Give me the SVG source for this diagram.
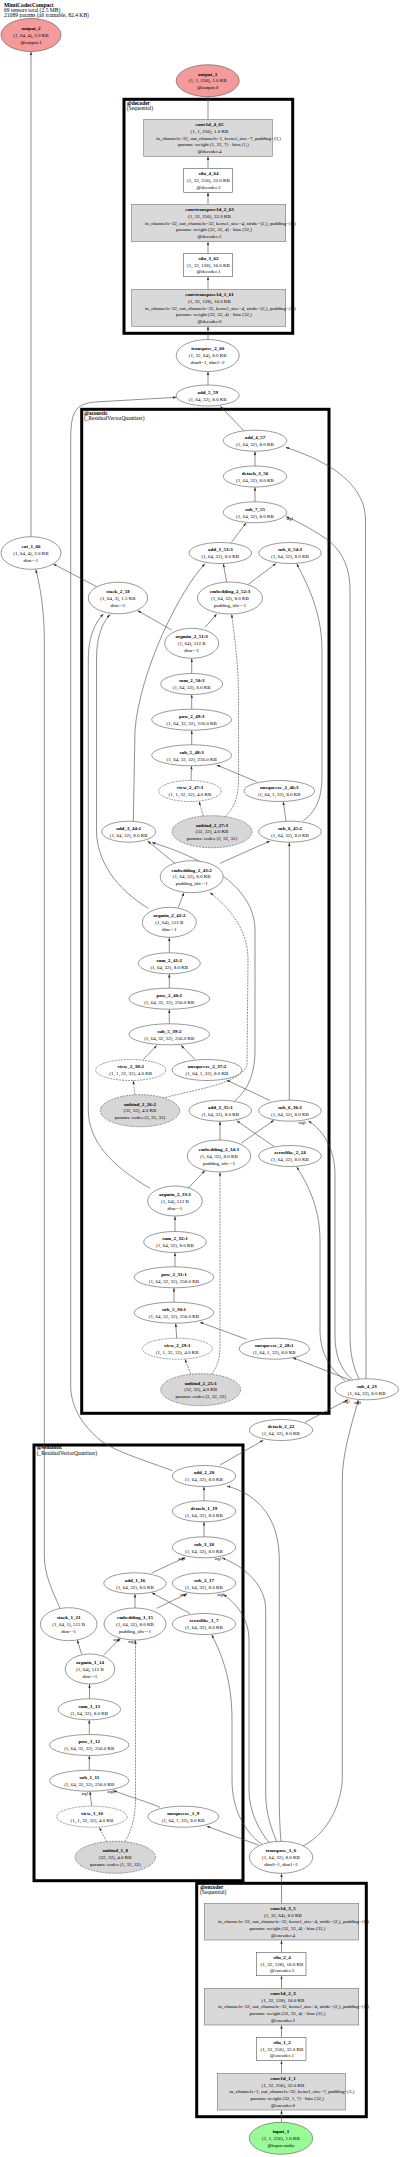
<svg xmlns="http://www.w3.org/2000/svg" width="400" height="2157" viewBox="0 0 400 2157">
<style>
text{font-family:"Liberation Serif","Times New Roman",serif;font-size:5px;text-anchor:middle;fill:#000}
.b{font-weight:bold}
.h{text-anchor:start;font-size:5.6px}
.cl{text-anchor:start;font-size:5.4px}
.lb{font-size:4px}
ellipse,.r{fill:#fff;stroke:#555;stroke-width:.6}
.d{stroke-dasharray:2,1}
.p{fill:#d6d6d6}
.m{fill:#d9d9d9;stroke:#777;stroke-width:.6}
.out{fill:#f49a9a}
.in{fill:#98fb98}
.c{fill:none;stroke:#000;stroke-width:3}
.e{fill:none;stroke:#444;stroke-width:.6;marker-end:url(#a)}
.ed{stroke-dasharray:2,1}
</style>
<defs>
<marker id="a" markerUnits="userSpaceOnUse" markerWidth="4" markerHeight="3" refX="3.5" refY="1.2" orient="auto"><path d="M0,0L3.5,1.2L0,2.4z" fill="#333"/></marker>
</defs>
<rect width="400" height="2157" fill="#fff"/>
<g id="header">
<text x="4" y="6.7" class="h b">MimiCodecCompact</text>
<text x="4" y="11.7" class="h">69 tensors total (2.5 MB)</text>
<text x="4" y="16.7" class="h">21089 params (all trainable, 82.4 KB)</text>
</g>
<g id="clusters">
<rect class="c" x="124" y="99.3" width="168.7" height="234"/>
<text x="126.7" y="105.2" class="cl b">@decoder</text><text x="126.7" y="110.2" class="cl">(Sequential)</text>
<rect class="c" x="81.7" y="409.3" width="247.3" height="1004"/>
<text x="84" y="414.6" class="cl b">@acoustic</text><text x="84" y="419.6" class="cl">(_ResidualVectorQuantizer)</text>
<rect class="c" x="34" y="1445" width="209" height="435.7"/>
<text x="36.7" y="1449.2" class="cl b">@semantic</text><text x="36.7" y="1454.6" class="cl">(_ResidualVectorQuantizer)</text>
<rect class="c" x="196.7" y="1883.3" width="169.6" height="233.4"/>
<text x="200" y="1889.2" class="cl b">@encoder</text><text x="200" y="1893.9" class="cl">(Sequential)</text>
</g>
<g id="edges">
<path class="e" d="M31,536.7L31,51.7"/>
<path class="e" d="M208,119.3L208,96.9"/>
<path class="e" d="M208,168.3L208,156.5"/>
<path class="e" d="M208,204.3L208,192.5"/>
<path class="e" d="M208,253.3L208,241.9"/>
<path class="e" d="M208,289.3L208,276.9"/>
<path class="e" d="M208,339.5L208,326.5"/>
<path class="e" d="M208,385L208,371.7"/>
<path class="e" d="M243.7,430.5L220.3,406.2"/>
<path class="e" d="M172.3,1470.7C150,1462 115,1452 100,1440C80,1423 70.7,1405 70.7,1385L70.7,440C70.7,412 75,404 95,402L176.5,397.3"/>
<path class="e" d="M96.7,586.7L53.3,564"/>
<path class="e" d="M60,1608C52,1590 44.3,1575 44.3,1555L44.3,640C44.3,610 40,585 35.7,569.5"/>
<path class="e" d="M171.7,630L137.7,610.7"/>
<path class="e" d="M148.3,908.3C115,888 96.5,860 96.5,830L96.5,660C96.5,635 103,622 110,614.5"/>
<path class="e" d="M150,1188.3C110,1165 88.3,1140 88.3,1110L88.3,660C88.3,635 96,622 103.3,614"/>
<path class="e" d="M205,627.3L216.7,614"/>
<path class="e ed" d="M225,816.7C235,808 238.5,795 238.5,780L238.5,700C238.5,660 234,635 231.7,614.2"/>
<path class="e" d="M226.7,582.3L223.3,563.7"/>
<path class="e" d="M248.3,584.3L276,563.5"/>
<path class="e" d="M133.3,821.2L135,730C140,670 180,590 205,563.7"/>
<path class="e" d="M303.3,820.7C318,810 322,795 322,775L322,650C322,610 305,580 296.7,563.7"/>
<path class="e" d="M231.3,542.5L246,523"/>
<path class="e" d="M359,1378.8C352,1365 350,1350 350,1335L350,590C350,565 340,548 325,538C310,528 295,520 286,516.7"/>
<path class="e" d="M366,1378.8L365.5,520C365.5,490 340,465 285.7,447.3"/>
<path class="e" d="M255,466L255,451.4"/>
<path class="e" d="M255,501.8L255,487.2"/>
<path class="e" d="M191.7,673.5L191.7,658.5"/>
<path class="e" d="M191.7,709.2L191.7,694.7"/>
<path class="e" d="M191.7,744.8L191.7,730.4"/>
<path class="e" d="M191,780.5L191.5,766"/>
<path class="e" d="M256.7,781.7L216.7,765"/>
<path class="e" d="M286,821.2L283.3,801.7"/>
<path class="e ed" d="M203.3,816L199,801.5"/>
<path class="e" d="M175,863.3L147.5,841"/>
<path class="e" d="M220,863.3L270,841"/>
<path class="e" d="M235,1100.5C250,1088 255,1070 255,1050L255,930C255,885 200,857 152,842.5"/>
<path class="e ed" d="M160,1099C190,1090 240,1085 247,1065L248,960C248,930 230,908 210,892.7"/>
<path class="e" d="M178.3,907.5L184,892.7"/>
<path class="e" d="M169.3,952.8L169.3,937.5"/>
<path class="e" d="M169.3,988.2L169.3,974"/>
<path class="e" d="M169.3,1023.8L169.3,1009.4"/>
<path class="e" d="M143.3,1059.5L156.7,1045.5"/>
<path class="e" d="M195,1059.5L181,1045.3"/>
<path class="e ed" d="M135,1094.7L133.3,1080.7"/>
<path class="e" d="M270,1100.5L226.7,1080.2"/>
<path class="e" d="M289.3,1100.2L289.3,842.4"/>
<path class="e" d="M175,1231.5L175,1216.2"/>
<path class="e" d="M188.3,1188L205,1170.5"/>
<path class="e ed" d="M211.7,1374C218,1366 220,1358 220,1345L220,1172.2"/>
<path class="e" d="M220,1140L220,1121.4"/>
<path class="e" d="M241,1143.3L274,1120.2"/>
<path class="e" d="M274,1146.5L236.7,1120.7"/>
<path class="e" d="M345,1380.5C328,1368 320,1350 320,1330L320,1240C320,1205 305,1180 296.7,1166.9"/>
<path class="e" d="M352,1379.5C340,1368 335,1355 335,1335L335,1175C335,1145 320,1128 308.3,1120.9"/>
<path class="e" d="M175,1266.8L175,1252.7"/>
<path class="e" d="M174,1302.2L174,1288"/>
<path class="e" d="M176.7,1338.2L175.7,1323.4"/>
<path class="e" d="M246.7,1339.3L200,1322.3"/>
<path class="e" d="M350,1380L292.7,1357.7"/>
<path class="e ed" d="M190.7,1373.8L185,1359.2"/>
<path class="e" d="M305,1422.3L348.3,1399.5"/>
<path class="e" d="M301.7,1846.7C325,1835 340,1810 342.3,1780L342.3,1480C342.3,1455 350,1430 358.3,1400"/>
<path class="e" d="M220,1465L263.3,1440.2"/>
<path class="e" d="M204,1500.8L204,1486.7"/>
<path class="e" d="M204,1536.8L204,1522"/>
<path class="e" d="M151.7,1573L185,1557.5"/>
<path class="e" d="M276.7,1841.5C272,1830 266,1815 265.7,1795L265.7,1610C265.7,1585 245,1567 222,1557.8"/>
<path class="e" d="M281,1841.3C280,1830 279.3,1815 279.3,1800L279.3,1560C279.3,1520 260,1495 227,1486"/>
<path class="e" d="M270,1843.3C258,1830 249,1810 249,1790L249,1640C249,1620 238,1605 223.5,1594.5"/>
<path class="e" d="M262,1844.5C245,1832 232,1810 232,1780L232,1720C232,1680 222,1655 211.7,1634.8"/>
<path class="e" d="M258.3,1845L206.7,1826.2"/>
<path class="e" d="M190,1613.5L151.7,1592.7"/>
<path class="e" d="M135,1608L135,1594"/>
<path class="e" d="M156.7,1608.3L186.7,1593.8"/>
<path class="e" d="M103.3,1655.5L120,1638.5"/>
<path class="e ed" d="M125,1841.5C132,1830 135.5,1815 135.5,1800L135.5,1640.2"/>
<path class="e" d="M81.7,1654.3L77.3,1640"/>
<path class="e" d="M89.5,1698.8L89.5,1684.2"/>
<path class="e" d="M89.3,1734.5L89.3,1720"/>
<path class="e" d="M89.3,1770.2L89.3,1755.7"/>
<path class="e" d="M91.7,1806.2L90,1791.4"/>
<path class="e" d="M160,1807.3C148,1802 130,1797 113.3,1790.5"/>
<path class="e ed" d="M106.7,1841.5L99.3,1827.5"/>
<path class="e" d="M281.5,1903.3L281.5,1873.5"/>
<path class="e" d="M281.5,1952.3L281.5,1940.2"/>
<path class="e" d="M281.5,1988.3L281.5,1975.9"/>
<path class="e" d="M281.5,2037.3L281.5,2025.2"/>
<path class="e" d="M281.5,2073.3L281.5,2060.9"/>
<path class="e" d="M281.5,2122.3L281.5,2110.2"/>
<text class="lb" x="290" y="520">arg1</text>
<text class="lb" x="302" y="1123.5">arg0</text>
<text class="lb" x="346.5" y="1403.3">arg1</text>
<text class="lb" x="357.5" y="1404.3">arg0</text>
<text class="lb" x="181.7" y="1559.6">arg0</text>
<text class="lb" x="218.3" y="1559.6">arg1</text>
<text class="lb" x="183.7" y="1596.3">arg1</text>
<text class="lb" x="220.7" y="1596.3">arg0</text>
<text class="lb" x="116.7" y="1641.3">arg0</text>
<text class="lb" x="131.7" y="1643.3">arg1</text>
<text class="lb" x="85" y="1795.3">arg1</text>
<text class="lb" x="111" y="1793">arg0</text>
</g>
<g id="output_2"><ellipse class="out" cx="31" cy="35" rx="30" ry="16.5"/><text x="31" y="29.9" class="b">output_2</text><text x="31" y="36.7">(1, 64, 4), 2.0 KB</text><text x="31" y="43.5">@output.1</text></g>
<g id="output_1"><ellipse class="out" cx="207.7" cy="80.7" rx="31.5" ry="16"/><text x="207.7" y="75.6" class="b">output_1</text><text x="207.7" y="82.4">(1, 1, 256), 1.0 KB</text><text x="207.7" y="89.2">@output.0</text></g>
<g id="conv1d_4_65"><rect class="m" x="143.7" y="119.3" width="128.6" height="37"/><text x="209.5" y="126" class="b">conv1d_4_65</text><text x="209.5" y="132.75">(1, 1, 256), 1.0 KB</text><text x="218.5" y="139.5">in_channels=32, out_channels=1, kernel_size=7, padding=(3,)</text><text x="213.3" y="146.25">params: weight (1, 32, 7) · bias (1,)</text><text x="209.5" y="153">@decoder.4</text></g>
<g id="silu_4_64"><rect class="r" x="183.7" y="168.3" width="48.6" height="24"/><text x="208.5" y="175.3" class="b">silu_4_64</text><text x="208.5" y="182">(1, 32, 256), 32.0 KB</text><text x="208.5" y="188.7">@decoder.3</text></g>
<g id="convtranspose1d_2_63"><rect class="m" x="131.7" y="204.3" width="154" height="37.4"/><text x="209.5" y="211.2" class="b">convtranspose1d_2_63</text><text x="209.5" y="217.95">(1, 32, 256), 32.0 KB</text><text x="220.5" y="224.7">in_channels=32, out_channels=32, kernel_size=4, stride=(2,), padding=(1,)</text><text x="214" y="231.45">params: weight (32, 32, 4) · bias (32,)</text><text x="209.5" y="238.2">@decoder.2</text></g>
<g id="silu_3_62"><rect class="r" x="183.7" y="253.3" width="48.6" height="23.4"/><text x="208.5" y="260" class="b">silu_3_62</text><text x="208.5" y="266.7">(1, 32, 128), 16.0 KB</text><text x="208.5" y="273.4">@decoder.1</text></g>
<g id="convtranspose1d_1_61"><rect class="m" x="131.7" y="289.3" width="154" height="37"/><text x="209.5" y="296" class="b">convtranspose1d_1_61</text><text x="209.5" y="302.75">(1, 32, 128), 16.0 KB</text><text x="220.5" y="309.5">in_channels=32, out_channels=32, kernel_size=4, stride=(2,), padding=(1,)</text><text x="214" y="316.25">params: weight (32, 32, 4) · bias (32,)</text><text x="209.5" y="323">@decoder.0</text></g>
<g id="transpose_2_60"><ellipse cx="207.7" cy="355.5" rx="31.5" ry="16"/><text x="207.7" y="350.4" class="b">transpose_2_60</text><text x="207.7" y="357.2">(1, 32, 64), 8.0 KB</text><text x="207.7" y="364">dim0=1, dim1=2</text></g>
<g id="add_5_59"><ellipse cx="207.7" cy="395.5" rx="31.5" ry="10.5"/><text x="207.7" y="393.7" class="b">add_5_59</text><text x="207.7" y="400.7">(1, 64, 32), 8.0 KB</text></g>
<g id="add_4_57"><ellipse cx="255" cy="440.7" rx="31.7" ry="10.5"/><text x="255" y="438.9" class="b">add_4_57</text><text x="255" y="445.9">(1, 64, 32), 8.0 KB</text></g>
<g id="detach_3_56"><ellipse cx="255" cy="476.5" rx="31.7" ry="10.5"/><text x="255" y="474.7" class="b">detach_3_56</text><text x="255" y="481.7">(1, 64, 32), 8.0 KB</text></g>
<g id="sub_7_55"><ellipse cx="255" cy="512.3" rx="31.7" ry="10.5"/><text x="255" y="510.5" class="b">sub_7_55</text><text x="255" y="517.5">(1, 64, 32), 8.0 KB</text></g>
<g id="add_3_53-3"><ellipse cx="220.3" cy="553" rx="31.3" ry="10.5"/><text x="220.3" y="551.2" class="b">add_3_53:3</text><text x="220.3" y="558.2">(1, 64, 32), 8.0 KB</text></g>
<g id="sub_6_54-3"><ellipse cx="290" cy="553" rx="31.3" ry="10.5"/><text x="290" y="551.2" class="b">sub_6_54:3</text><text x="290" y="558.2">(1, 64, 32), 8.0 KB</text></g>
<g id="cat_1_66"><ellipse cx="31" cy="553" rx="30" ry="16.3"/><text x="31" y="547.9" class="b">cat_1_66</text><text x="31" y="554.7">(1, 64, 4), 2.0 KB</text><text x="31" y="561.5">dim=-1</text></g>
<g id="stack_2_58"><ellipse cx="118" cy="598" rx="29.7" ry="15.8"/><text x="118" y="592.9" class="b">stack_2_58</text><text x="118" y="599.7">(1, 64, 3), 1.5 KB</text><text x="118" y="606.5">dim=-1</text></g>
<g id="embedding_2_52-3"><ellipse cx="230" cy="598" rx="32.5" ry="16"/><text x="230" y="592.9" class="b">embedding_2_52:3</text><text x="230" y="599.7">(1, 64, 32), 8.0 KB</text><text x="230" y="606.5">padding_idx=-1</text></g>
<g id="argmin_2_51-3"><ellipse cx="191.7" cy="643.3" rx="27" ry="15"/><text x="191.7" y="638.2" class="b">argmin_2_51:3</text><text x="191.7" y="645">(1, 64), 512 B</text><text x="191.7" y="651.8">dim=-1</text></g>
<g id="sum_2_50-3"><ellipse cx="191.7" cy="684" rx="31" ry="10.5"/><text x="191.7" y="682.2" class="b">sum_2_50:3</text><text x="191.7" y="689.2">(1, 64, 32), 8.0 KB</text></g>
<g id="pow_2_49-3"><ellipse cx="191.7" cy="719.7" rx="40" ry="10.5"/><text x="191.7" y="717.9" class="b">pow_2_49:3</text><text x="191.7" y="724.9">(1, 64, 32, 32), 256.0 KB</text></g>
<g id="sub_5_48-3"><ellipse cx="191.7" cy="755.3" rx="40" ry="10.5"/><text x="191.7" y="753.5" class="b">sub_5_48:3</text><text x="191.7" y="760.5">(1, 64, 32, 32), 256.0 KB</text></g>
<g id="view_2_47-3"><ellipse class="d" cx="190" cy="791" rx="31.2" ry="10.5"/><text x="190" y="789.2" class="b">view_2_47:3</text><text x="190" y="796.2">(1, 1, 32, 32), 4.0 KB</text></g>
<g id="unsqueeze_2_46-3"><ellipse cx="279.3" cy="791" rx="35.3" ry="10.5"/><text x="279.3" y="789.2" class="b">unsqueeze_2_46:3</text><text x="279.3" y="796.2">(1, 64, 1, 32), 8.0 KB</text></g>
<g id="add_3_44-2"><ellipse cx="128.7" cy="831.7" rx="27" ry="10.5"/><text x="128.7" y="829.9" class="b">add_3_44:2</text><text x="128.7" y="836.9">(1, 64, 32), 8.0 KB</text></g>
<g id="unbind_2_27-3"><ellipse class="p d" cx="212" cy="831.7" rx="40" ry="16"/><text x="212" y="826.6" class="b">unbind_2_27:3</text><text x="212" y="833.4">(32, 32), 4.0 KB</text><text x="212" y="840.2">params: codes (3, 32, 32)</text></g>
<g id="sub_6_45-2"><ellipse cx="290" cy="831.7" rx="31.3" ry="10.5"/><text x="290" y="829.9" class="b">sub_6_45:2</text><text x="290" y="836.9">(1, 64, 32), 8.0 KB</text></g>
<g id="embedding_2_43-2"><ellipse cx="191.7" cy="876.7" rx="31.5" ry="16"/><text x="191.7" y="871.6" class="b">embedding_2_43:2</text><text x="191.7" y="878.4">(1, 64, 32), 8.0 KB</text><text x="191.7" y="885.2">padding_idx=-1</text></g>
<g id="argmin_2_42-2"><ellipse cx="169.3" cy="922.3" rx="27" ry="15"/><text x="169.3" y="917.2" class="b">argmin_2_42:2</text><text x="169.3" y="924">(1, 64), 512 B</text><text x="169.3" y="930.8">dim=-1</text></g>
<g id="sum_2_41-2"><ellipse cx="169.3" cy="963.3" rx="31" ry="10.5"/><text x="169.3" y="961.5" class="b">sum_2_41:2</text><text x="169.3" y="968.5">(1, 64, 32), 8.0 KB</text></g>
<g id="pow_2_40-2"><ellipse cx="169.3" cy="998.7" rx="40.3" ry="10.5"/><text x="169.3" y="996.9" class="b">pow_2_40:2</text><text x="169.3" y="1003.9">(1, 64, 32, 32), 256.0 KB</text></g>
<g id="sub_5_39-2"><ellipse cx="169.3" cy="1034.3" rx="40.3" ry="10.5"/><text x="169.3" y="1032.5" class="b">sub_5_39:2</text><text x="169.3" y="1039.5">(1, 64, 32, 32), 256.0 KB</text></g>
<g id="view_2_38-2"><ellipse class="d" cx="130.7" cy="1070" rx="35" ry="10.5"/><text x="130.7" y="1068.2" class="b">view_2_38:2</text><text x="130.7" y="1075.2">(1, 1, 32, 32), 4.0 KB</text></g>
<g id="unsqueeze_2_37-2"><ellipse cx="207" cy="1070" rx="35" ry="10.5"/><text x="207" y="1068.2" class="b">unsqueeze_2_37:2</text><text x="207" y="1075.2">(1, 64, 1, 32), 8.0 KB</text></g>
<g id="unbind_2_26-2"><ellipse class="p d" cx="140" cy="1110.7" rx="39.7" ry="16"/><text x="140" y="1105.6" class="b">unbind_2_26:2</text><text x="140" y="1112.4">(32, 32), 4.0 KB</text><text x="140" y="1119.2">params: codes (3, 32, 32)</text></g>
<g id="add_3_35-1"><ellipse cx="220.3" cy="1110.7" rx="31.3" ry="10.5"/><text x="220.3" y="1108.9" class="b">add_3_35:1</text><text x="220.3" y="1115.9">(1, 64, 32), 8.0 KB</text></g>
<g id="sub_6_36-1"><ellipse cx="290" cy="1110.7" rx="31.3" ry="10.5"/><text x="290" y="1108.9" class="b">sub_6_36:1</text><text x="290" y="1115.9">(1, 64, 32), 8.0 KB</text></g>
<g id="embedding_2_34-1"><ellipse cx="219" cy="1156" rx="31.7" ry="16"/><text x="219" y="1150.9" class="b">embedding_2_34:1</text><text x="219" y="1157.7">(1, 64, 32), 8.0 KB</text><text x="219" y="1164.5">padding_idx=-1</text></g>
<g id="zeroslike_2_24"><ellipse cx="290" cy="1156" rx="31.3" ry="10.5"/><text x="290" y="1154.2" class="b">zeroslike_2_24</text><text x="290" y="1161.2">(1, 64, 32), 8.0 KB</text></g>
<g id="argmin_2_33-1"><ellipse cx="175" cy="1201" rx="27.3" ry="15"/><text x="175" y="1195.9" class="b">argmin_2_33:1</text><text x="175" y="1202.7">(1, 64), 512 B</text><text x="175" y="1209.5">dim=-1</text></g>
<g id="sum_2_32-1"><ellipse cx="175" cy="1242" rx="31.3" ry="10.5"/><text x="175" y="1240.2" class="b">sum_2_32:1</text><text x="175" y="1247.2">(1, 64, 32), 8.0 KB</text></g>
<g id="pow_2_31-1"><ellipse cx="174" cy="1277.3" rx="39.8" ry="10.5"/><text x="174" y="1275.5" class="b">pow_2_31:1</text><text x="174" y="1282.5">(1, 64, 32, 32), 256.0 KB</text></g>
<g id="sub_5_30-1"><ellipse cx="174" cy="1312.7" rx="39.8" ry="10.5"/><text x="174" y="1310.9" class="b">sub_5_30:1</text><text x="174" y="1317.9">(1, 64, 32, 32), 256.0 KB</text></g>
<g id="view_2_29-1"><ellipse class="d" cx="177.3" cy="1348.7" rx="35" ry="10.5"/><text x="177.3" y="1346.9" class="b">view_2_29:1</text><text x="177.3" y="1353.9">(1, 1, 32, 32), 4.0 KB</text></g>
<g id="unsqueeze_2_28-1"><ellipse cx="274.3" cy="1348.7" rx="35.2" ry="10.5"/><text x="274.3" y="1346.9" class="b">unsqueeze_2_28:1</text><text x="274.3" y="1353.9">(1, 64, 1, 32), 8.0 KB</text></g>
<g id="unbind_2_25-1"><ellipse class="p d" cx="200.7" cy="1389.7" rx="40" ry="16"/><text x="200.7" y="1384.6" class="b">unbind_2_25:1</text><text x="200.7" y="1391.4">(32, 32), 4.0 KB</text><text x="200.7" y="1398.2">params: codes (3, 32, 32)</text></g>
<g id="sub_4_23"><ellipse cx="366.7" cy="1389.3" rx="31.7" ry="10.5"/><text x="366.7" y="1387.5" class="b">sub_4_23</text><text x="366.7" y="1394.5">(1, 64, 32), 8.0 KB</text></g>
<g id="detach_2_22"><ellipse cx="281" cy="1430" rx="31.7" ry="10.5"/><text x="281" y="1428.2" class="b">detach_2_22</text><text x="281" y="1435.2">(1, 64, 32), 8.0 KB</text></g>
<g id="add_2_20"><ellipse cx="204" cy="1476" rx="31.7" ry="10.5"/><text x="204" y="1474.2" class="b">add_2_20</text><text x="204" y="1481.2">(1, 64, 32), 8.0 KB</text></g>
<g id="detach_1_19"><ellipse cx="204" cy="1511.3" rx="31.7" ry="10.5"/><text x="204" y="1509.5" class="b">detach_1_19</text><text x="204" y="1516.5">(1, 64, 32), 8.0 KB</text></g>
<g id="sub_3_18"><ellipse cx="204" cy="1547.3" rx="31.7" ry="10.5"/><text x="204" y="1545.5" class="b">sub_3_18</text><text x="204" y="1552.5">(1, 64, 32), 8.0 KB</text></g>
<g id="add_1_16"><ellipse cx="135" cy="1583.3" rx="31.2" ry="10.5"/><text x="135" y="1581.5" class="b">add_1_16</text><text x="135" y="1588.5">(1, 64, 32), 8.0 KB</text></g>
<g id="sub_2_17"><ellipse cx="204" cy="1583.3" rx="31.7" ry="10.5"/><text x="204" y="1581.5" class="b">sub_2_17</text><text x="204" y="1588.5">(1, 64, 32), 8.0 KB</text></g>
<g id="stack_1_21"><ellipse cx="68.7" cy="1624.2" rx="28.3" ry="16.5"/><text x="68.7" y="1619.1" class="b">stack_1_21</text><text x="68.7" y="1625.9">(1, 64, 1), 512 B</text><text x="68.7" y="1632.7">dim=-1</text></g>
<g id="embedding_1_15"><ellipse cx="135" cy="1624" rx="31" ry="16"/><text x="135" y="1618.9" class="b">embedding_1_15</text><text x="135" y="1625.7">(1, 64, 32), 8.0 KB</text><text x="135" y="1632.5">padding_idx=-1</text></g>
<g id="zeroslike_1_7"><ellipse cx="204" cy="1624" rx="31.7" ry="10.5"/><text x="204" y="1622.2" class="b">zeroslike_1_7</text><text x="204" y="1629.2">(1, 64, 32), 8.0 KB</text></g>
<g id="argmin_1_14"><ellipse cx="90" cy="1669" rx="24.8" ry="15"/><text x="90" y="1663.9" class="b">argmin_1_14</text><text x="90" y="1670.7">(1, 64), 512 B</text><text x="90" y="1677.5">dim=-1</text></g>
<g id="sum_1_13"><ellipse cx="89.3" cy="1709.3" rx="31.2" ry="10.5"/><text x="89.3" y="1707.5" class="b">sum_1_13</text><text x="89.3" y="1714.5">(1, 64, 32), 8.0 KB</text></g>
<g id="pow_1_12"><ellipse cx="89.3" cy="1745" rx="39.7" ry="10.5"/><text x="89.3" y="1743.2" class="b">pow_1_12</text><text x="89.3" y="1750.2">(1, 64, 32, 32), 256.0 KB</text></g>
<g id="sub_1_11"><ellipse cx="89.3" cy="1780.7" rx="39.7" ry="10.5"/><text x="89.3" y="1778.9" class="b">sub_1_11</text><text x="89.3" y="1785.9">(1, 64, 32, 32), 256.0 KB</text></g>
<g id="view_1_10"><ellipse class="d" cx="92" cy="1816.7" rx="35.2" ry="10.5"/><text x="92" y="1814.9" class="b">view_1_10</text><text x="92" y="1821.9">(1, 1, 32, 32), 4.0 KB</text></g>
<g id="unsqueeze_1_9"><ellipse cx="183.3" cy="1816.7" rx="35.5" ry="10.5"/><text x="183.3" y="1814.9" class="b">unsqueeze_1_9</text><text x="183.3" y="1821.9">(1, 64, 1, 32), 8.0 KB</text></g>
<g id="unbind_1_8"><ellipse class="p d" cx="115.3" cy="1857.3" rx="40.2" ry="16"/><text x="115.3" y="1852.2" class="b">unbind_1_8</text><text x="115.3" y="1859">(32, 32), 4.0 KB</text><text x="115.3" y="1865.8">params: codes (1, 32, 32)</text></g>
<g id="transpose_1_6"><ellipse cx="281" cy="1857.3" rx="31.7" ry="16"/><text x="281" y="1852.2" class="b">transpose_1_6</text><text x="281" y="1859">(1, 64, 32), 8.0 KB</text><text x="281" y="1865.8">dim0=1, dim1=2</text></g>
<g id="conv1d_3_5"><rect class="m" x="204.3" y="1903.3" width="154.4" height="36.7"/><text x="283" y="1909.9" class="b">conv1d_3_5</text><text x="283" y="1916.65">(1, 32, 64), 8.0 KB</text><text x="293.5" y="1923.4">in_channels=32, out_channels=32, kernel_size=4, stride=(2,), padding=(1,)</text><text x="287.5" y="1930.15">params: weight (32, 32, 4) · bias (32,)</text><text x="283" y="1936.9">@encoder.4</text></g>
<g id="silu_2_4"><rect class="r" x="256.3" y="1952.3" width="49.7" height="23.4"/><text x="282" y="1959" class="b">silu_2_4</text><text x="282" y="1965.7">(1, 32, 128), 16.0 KB</text><text x="282" y="1972.4">@encoder.3</text></g>
<g id="conv1d_2_3"><rect class="m" x="204.3" y="1988.3" width="154.4" height="36.7"/><text x="283" y="1994.9" class="b">conv1d_2_3</text><text x="283" y="2001.65">(1, 32, 128), 16.0 KB</text><text x="293.5" y="2008.4">in_channels=32, out_channels=32, kernel_size=4, stride=(2,), padding=(1,)</text><text x="287.5" y="2015.15">params: weight (32, 32, 4) · bias (32,)</text><text x="283" y="2021.9">@encoder.2</text></g>
<g id="silu_1_2"><rect class="r" x="256.3" y="2037.3" width="49.7" height="23.4"/><text x="282" y="2044" class="b">silu_1_2</text><text x="282" y="2050.7">(1, 32, 256), 32.0 KB</text><text x="282" y="2057.4">@encoder.1</text></g>
<g id="conv1d_1_1"><rect class="m" x="217.3" y="2073.3" width="128" height="36.7"/><text x="283" y="2079.9" class="b">conv1d_1_1</text><text x="283" y="2086.65">(1, 32, 256), 32.0 KB</text><text x="291.8" y="2093.4">in_channels=1, out_channels=32, kernel_size=7, padding=(3,)</text><text x="287.2" y="2100.15">params: weight (32, 1, 7) · bias (32,)</text><text x="283" y="2106.9">@encoder.0</text></g>
<g id="input_1"><ellipse class="in" cx="281" cy="2138.3" rx="31.7" ry="16"/><text x="281" y="2133.2" class="b">input_1</text><text x="281" y="2140">(1, 1, 256), 1.0 KB</text><text x="281" y="2146.8">@input.audio</text></g>
</svg>
